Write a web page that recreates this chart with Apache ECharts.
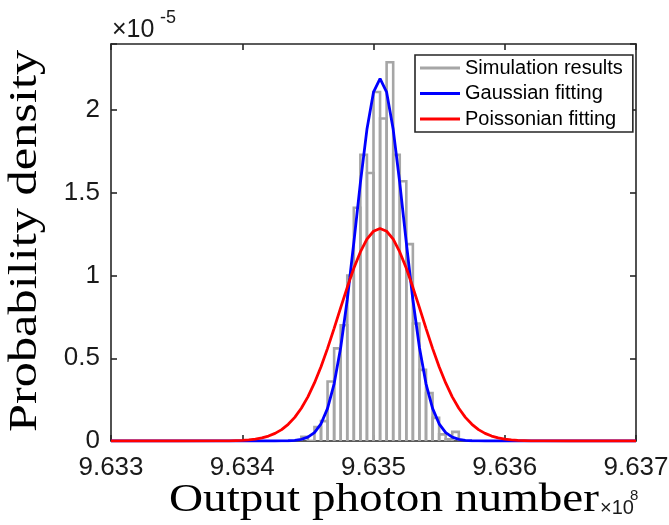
<!DOCTYPE html>
<html><head><meta charset="utf-8">
<script src="https://cdn.jsdelivr.net/npm/echarts/dist/echarts.min.js"></script>
<style>html,body{margin:0;padding:0;background:#fff}#c{width:669px;height:525px}</style>
</head><body><div id="c"></div>
<script>
// ---- data (x in units of 1e8 photons, y in units of 1e-5) ----
const xTicks = [9.633, 9.634, 9.635, 9.636, 9.637];
const xTickLabels = ['9.633', '9.634', '9.635', '9.636', '9.637'];
const yTicks = [0, 0.5, 1, 1.5, 2];
const yTickLabels = ['0', '0.5', '1', '1.5', '2'];
const seriesNames = ['Simulation results', 'Gaussian fitting', 'Poissonian fitting'];

// histogram bin edges and heights
const binEdges = [9.63445, 9.6345, 9.63455, 9.6346, 9.63465, 9.6347, 9.63475, 9.6348, 9.63485,
  9.6349, 9.63495, 9.635, 9.63505, 9.6351, 9.63515, 9.6352, 9.63525, 9.6353, 9.63535,
  9.6354, 9.63545, 9.6355, 9.63555, 9.6356, 9.63565];
const binHeights = [0.025, 0, 0.085, 0.12, 0.36, 0.56, 0.70, 1.0, 1.41, 1.73, 1.62, 2.11,
  1.95, 2.29, 1.73, 1.57, 1.19, 0.71, 0.43, 0.29, 0.14, 0.04, 0.01, 0.055];

// fitted curves
const curveX = [9.633, 9.6335, 9.6338, 9.6339, 9.634, 9.63405, 9.6341, 9.63415, 9.6342, 9.63425,
  9.6343, 9.63435, 9.6344, 9.63445, 9.6345, 9.63455, 9.6346, 9.63465, 9.6347, 9.63475, 9.6348,
  9.63485, 9.6349, 9.63495, 9.635, 9.63505, 9.6351, 9.63515, 9.6352, 9.63525, 9.6353, 9.63535,
  9.6354, 9.63545, 9.6355, 9.63555, 9.6356, 9.63565, 9.6357, 9.63575, 9.6358, 9.63585, 9.6359,
  9.63595, 9.636, 9.63605, 9.6361, 9.6362, 9.6363, 9.6365, 9.637];
const gaussY = [0, 0, 0, 0, 0, 0, 0, 0, 0, 0.0001, 0.0005, 0.0014, 0.0038, 0.0097, 0.023, 0.051,
  0.104, 0.197, 0.346, 0.565, 0.854, 1.199, 1.561, 1.884, 2.109, 2.19, 2.109, 1.884, 1.561, 1.199,
  0.854, 0.565, 0.346, 0.197, 0.104, 0.051, 0.023, 0.0097, 0.0038, 0.0014, 0.0005, 0.0001,
  0, 0, 0, 0, 0, 0, 0, 0, 0];
const poissY = [0, 0, 0.0004, 0.0013, 0.0042, 0.0072, 0.012, 0.019, 0.030, 0.046, 0.069, 0.101,
  0.143, 0.198, 0.267, 0.351, 0.449, 0.560, 0.681, 0.806, 0.929, 1.044, 1.143, 1.220, 1.268, 1.285,
  1.268, 1.220, 1.143, 1.044, 0.929, 0.806, 0.681, 0.560, 0.449, 0.351, 0.267, 0.198, 0.143, 0.101,
  0.069, 0.046, 0.030, 0.019, 0.012, 0.0072, 0.0042, 0.0013, 0.0004, 0, 0];

// ---- build ----
const histData = binHeights.map((h, i) => [binEdges[i], binEdges[i + 1], h]);
const gaussData = curveX.map((x, i) => [x, gaussY[i]]);
const poissData = curveX.map((x, i) => [x, poissY[i]]);

const AX = '#262626';
function fmt(ticks, labels) {
  return function (v) {
    for (let i = 0; i < ticks.length; i++) if (Math.abs(v - ticks[i]) < 1e-7) return labels[i];
    return '';
  };
}
const axisLine = {show: true, onZero: false, lineStyle: {color: AX, width: 1.6}};
const axisTick = {show: true, inside: true, length: 6, lineStyle: {color: AX, width: 1.6}};
const tickFont = {fontFamily: 'Liberation Sans', fontSize: 26, color: '#1a1a1a'};

const chart = echarts.init(document.getElementById('c'), null, {renderer: 'canvas'});
chart.setOption({
  animation: false,
  backgroundColor: '#fff',
  grid: {left: 111, right: 33, top: 44, bottom: 84, outerBoundsMode: 'none', containLabel: false},
  xAxis: [
    {type: 'value', position: 'bottom', min: 9.633, max: 9.637, interval: 0.001,
     axisLine, axisTick, splitLine: {show: false},
     axisLabel: Object.assign({margin: 14, formatter: fmt(xTicks, xTickLabels)}, tickFont)},
    {type: 'value', position: 'top', min: 9.633, max: 9.637, interval: 0.001,
     axisLine, axisTick, splitLine: {show: false}, axisLabel: {show: false}}
  ],
  yAxis: [
    {type: 'value', position: 'left', min: 0, max: 2.4, interval: 0.5,
     axisLine, axisTick, splitLine: {show: false},
     axisLabel: Object.assign({margin: 11, formatter: fmt(yTicks, yTickLabels)}, tickFont)},
    {type: 'value', position: 'right', min: 0, max: 2.4, interval: 0.5,
     axisLine, axisTick, splitLine: {show: false}, axisLabel: {show: false}}
  ],
  legend: {
    orient: 'vertical', left: 415, top: 55, padding: [3, 10, 3, 5], itemGap: 5.5,
    itemWidth: 40, itemHeight: 2.8, backgroundColor: '#fff',
    borderColor: AX, borderWidth: 1.6, borderRadius: 0,
    textStyle: {fontFamily: 'Liberation Sans', fontSize: 20, color: '#000'},
    data: [
      {name: seriesNames[0], icon: 'rect', itemStyle: {color: '#a6a6a6'}},
      {name: seriesNames[1], icon: 'rect', itemStyle: {color: '#0000ff'}},
      {name: seriesNames[2], icon: 'rect', itemStyle: {color: '#ff0000'}}
    ]
  },
  series: [
    {
      name: seriesNames[0], type: 'custom', clip: true, xAxisIndex: 0, yAxisIndex: 0,
      itemStyle: {color: '#a6a6a6'},
      encode: {x: [0, 1], y: 2},
      data: histData,
      renderItem: function (params, api) {
        const a = api.coord([api.value(0), api.value(2)]);
        const b = api.coord([api.value(1), 0]);
        return {
          type: 'polyline',
          shape: {points: [[a[0], b[1]], [a[0], a[1]], [b[0], a[1]], [b[0], b[1]]]},
          style: {fill: null, stroke: '#a6a6a6', lineWidth: 2.6}
        };
      }
    },
    {
      name: seriesNames[1], type: 'line', data: gaussData, showSymbol: false, symbol: 'none',
      lineStyle: {color: '#0000ff', width: 2.8}, itemStyle: {color: '#0000ff'}, smooth: false
    },
    {
      name: seriesNames[2], type: 'line', data: poissData, showSymbol: false, symbol: 'none',
      lineStyle: {color: '#ff0000', width: 2.8}, itemStyle: {color: '#ff0000'}, smooth: false
    }
  ],
  graphic: [
    {type: 'text', x: 25.5, y: 241, rotation: Math.PI / 2, scaleX: 1.26,
     style: {text: 'Probability density', font: '40px "Liberation Serif"', fill: '#000',
             align: 'center', verticalAlign: 'middle'}},
    {type: 'text', x: 384, y: 500.5, scaleX: 1.18,
     style: {text: 'Output photon number', font: '40px "Liberation Serif"', fill: '#000',
             align: 'center', verticalAlign: 'middle'}},
    {type: 'text', x: 600, y: 508,
     style: {text: '×10', font: '20px "Liberation Sans"', fill: '#1a1a1a', align: 'left', verticalAlign: 'middle'}},
    {type: 'text', x: 630, y: 496,
     style: {text: '8', font: '15px "Liberation Sans"', fill: '#1a1a1a', align: 'left', verticalAlign: 'middle'}},
    {type: 'text', x: 112, y: 30,
     style: {text: '×10', font: '25px "Liberation Sans"', fill: '#1a1a1a', align: 'left', verticalAlign: 'middle'}},
    {type: 'text', x: 160, y: 18,
     style: {text: '-5', font: '18px "Liberation Sans"', fill: '#1a1a1a', align: 'left', verticalAlign: 'middle'}}
  ]
});
</script></body></html>
